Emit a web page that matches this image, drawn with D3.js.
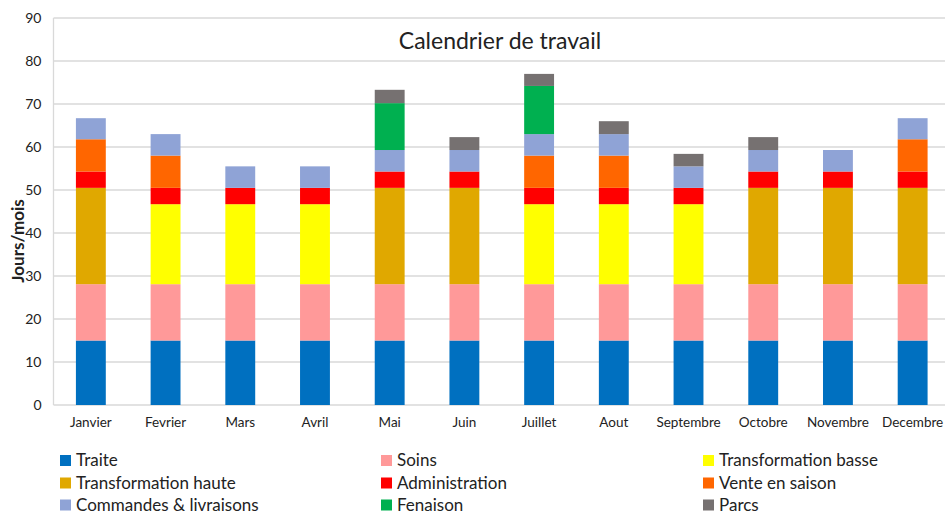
<!DOCTYPE html>
<html>
<head>
<meta charset="utf-8">
<script src="https://cdn.jsdelivr.net/npm/d3@7"></script>
<style>
  body { margin: 0; background: #fff; }
  svg text { font-family: Lato, "Open Sans", sans-serif; fill: #222; }
</style>
</head>
<body>
<svg id="chart" width="946" height="514"></svg>
<script>
// data (jours par mois)
var months = ["Janvier", "Fevrier", "Mars", "Avril", "Mai", "Juin", "Juillet", "Aout", "Septembre", "Octobre", "Novembre", "Decembre"];
var seriesNames = ["Traite", "Soins", "Transformation basse", "Transformation haute", "Administration", "Vente en saison", "Commandes & livraisons", "Fenaison", "Parcs"];
var seriesColors = ["#0070c0", "#ff9999", "#ffff00", "#e0a800", "#ff0000", "#ff6600", "#8fa3d6", "#00b050", "#767171"];

var traite      = [15, 15, 15, 15, 15, 15, 15, 15, 15, 15, 15, 15];
var soins       = [13.1, 13.1, 13.1, 13.1, 13.1, 13.1, 13.1, 13.1, 13.1, 13.1, 13.1, 13.1];
var transfoBasse = [0, 18.6, 18.6, 18.6, 0, 0, 18.6, 18.6, 18.6, 0, 0, 0];
var transfoHaute = [22.4, 0, 0, 0, 22.4, 22.4, 0, 0, 0, 22.4, 22.4, 22.4];
var administration = [3.8, 3.8, 3.8, 3.8, 3.8, 3.8, 3.8, 3.8, 3.8, 3.8, 3.8, 3.8];
var vente       = [7.5, 7.5, 0, 0, 0, 0, 7.5, 7.5, 0, 0, 0, 7.5];
var commandes   = [4.9, 5, 5, 5, 5, 5, 5, 5, 5, 5, 5, 4.9];
var fenaison    = [0, 0, 0, 0, 10.9, 0, 11.2, 0, 0, 0, 0, 0];
var parcs       = [0, 0, 0, 0, 3.1, 3, 2.8, 3, 2.9, 3, 0, 0];
var yTicks = [0, 10, 20, 30, 40, 50, 60, 70, 80, 90];

var allSeries = [traite, soins, transfoBasse, transfoHaute, administration, vente, commandes, fenaison, parcs];

var svg = d3.select("#chart");
var margin = { left: 53.5, right: -4, top: 18, bottom: 109 };
var W = 946, H = 514;

// rows for the stack
var rows = months.map(function(m, i) {
  var r = { month: m };
  seriesNames.forEach(function(s, k) { r[s] = allSeries[k][i]; });
  return r;
});
var stacked = d3.stack().keys(seriesNames)(rows);

var x = d3.scaleBand().domain(months)
  .range([margin.left, W - margin.right])
  .paddingInner(0.6).paddingOuter(0.3);
var y = d3.scaleLinear().domain([0, 90]).range([H - margin.bottom, margin.top]);

// gridlines
svg.append("g").selectAll("line").data(yTicks).join("line")
  .attr("x1", margin.left).attr("x2", 945)
  .attr("y1", function(d) { return y(d); }).attr("y2", function(d) { return y(d); })
  .attr("stroke", "#d9d9d9").attr("stroke-width", 1.3);

// left axis line
svg.append("line")
  .attr("x1", margin.left).attr("x2", margin.left)
  .attr("y1", y(90)).attr("y2", y(0))
  .attr("stroke", "#d9d9d9").attr("stroke-width", 1.3);

// bars
svg.append("g").selectAll("g").data(stacked).join("g")
  .attr("fill", function(d, i) { return seriesColors[i]; })
  .selectAll("rect").data(function(d) { return d; }).join("rect")
  .attr("x", function(d) { return x(d.data.month); })
  .attr("width", x.bandwidth())
  .attr("y", function(d) { return y(d[1]); })
  .attr("height", function(d) { return y(d[0]) - y(d[1]); });

// y tick labels
var yAxis = d3.axisLeft(y).tickValues(yTicks).tickSize(0).tickPadding(12);
var gy = svg.append("g").attr("transform", "translate(" + margin.left + ",0)").call(yAxis);
gy.select(".domain").remove();
gy.selectAll("text").style("font-family", "Lato, sans-serif").style("font-size", "14px").attr("fill", "#222");

// x tick labels
var xAxis = d3.axisBottom(x).tickSize(0).tickPadding(12);
var gx = svg.append("g").attr("transform", "translate(0," + y(0) + ")").call(xAxis);
gx.select(".domain").remove();
gx.selectAll("text").style("font-family", "Lato, sans-serif").style("font-size", "13.5px").attr("fill", "#222");

// title
svg.append("text")
  .attr("x", 500).attr("y", 49)
  .attr("text-anchor", "middle")
  .style("font-size", "23px")
  .text("Calendrier de travail");

// y label
svg.append("text")
  .attr("transform", "translate(24,241) rotate(-90)")
  .attr("text-anchor", "middle")
  .style("font-size", "17px").style("font-weight", "bold")
  .text("Jours/mois");

// legend, 3 columns, row-major
var legX = [60, 381, 703];
var legY = [460.5, 483, 505];
var leg = svg.append("g").selectAll("g").data(seriesNames).join("g")
  .attr("transform", function(d, i) { return "translate(" + legX[i % 3] + "," + legY[Math.floor(i / 3)] + ")"; });
leg.append("rect")
  .attr("x", 0).attr("y", -5.5).attr("width", 11).attr("height", 11)
  .attr("fill", function(d, i) { return seriesColors[i]; });
leg.append("text")
  .attr("x", 16).attr("y", 5.5)
  .style("font-size", "17px")
  .text(function(d) { return d; });
</script>
</body>
</html>
